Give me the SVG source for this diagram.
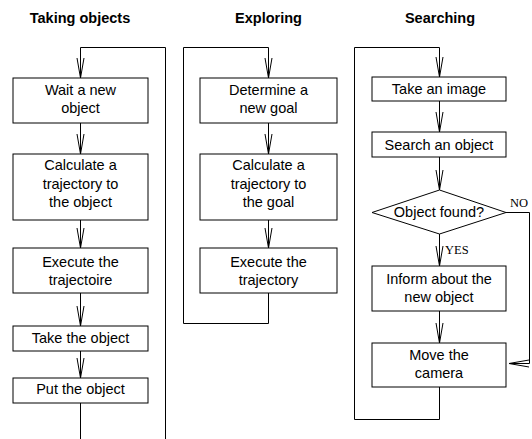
<svg xmlns="http://www.w3.org/2000/svg" width="532" height="439" viewBox="0 0 532 439">
<style>
.box{fill:#fff;stroke:#000;stroke-width:1}
.ln{fill:none;stroke:#000;stroke-width:1}
.t{font-family:"Liberation Sans",Arial,sans-serif;font-size:14.5px;fill:#000;text-anchor:middle}
.h{font-family:"Liberation Sans",Arial,sans-serif;font-size:14.5px;font-weight:bold;fill:#000;text-anchor:middle}
.m{font-family:"Liberation Serif","Times New Roman",serif;font-size:12.5px;fill:#000}
</style>
<defs>
<marker id="v" markerUnits="userSpaceOnUse" markerWidth="24" markerHeight="10" viewBox="-21 -5 22 10" refX="0" refY="0" orient="auto" overflow="visible">
<path d="M-20,-3.5 L0,0 L-20,3.5" fill="none" stroke="#000" stroke-width="1"/>
</marker>
</defs>
<g id="titles">
<text class="h" x="80" y="23">Taking objects</text>
<text class="h" x="268.5" y="23">Exploring</text>
<text class="h" x="440" y="23">Searching</text>
</g>
<g id="connectors">
<path class="ln" d="M80.5,439 V402.5"/>
<path class="ln" d="M80.5,47.5 H165.5 V439"/>
<path class="ln" d="M80.5,47.5 V78" marker-end="url(#v)"/>
<path class="ln" d="M80.5,123 V154" marker-end="url(#v)"/>
<path class="ln" d="M80.5,220 V248" marker-end="url(#v)"/>
<path class="ln" d="M80.5,293 V326" marker-end="url(#v)"/>
<path class="ln" d="M80.5,351 V378" marker-end="url(#v)"/>
<path class="ln" d="M268.5,293 V323.5 H183.5 V47.5 H268.5 V78" marker-end="url(#v)"/>
<path class="ln" d="M268.5,123 V154" marker-end="url(#v)"/>
<path class="ln" d="M268.5,220 V248" marker-end="url(#v)"/>
<path class="ln" d="M439.5,387 V419.5 H354.5 V47.5 H439.5 V77" marker-end="url(#v)"/>
<path class="ln" d="M439.5,101 V132" marker-end="url(#v)"/>
<path class="ln" d="M439.5,157 V190" marker-end="url(#v)"/>
<path class="ln" d="M439.5,234 V266" marker-end="url(#v)"/>
<path class="ln" d="M439.5,311 V343" marker-end="url(#v)"/>
<path class="ln" d="M506,212.5 H529.5 V363.5 H509" marker-end="url(#v)"/>
<text class="m" x="445" y="254">YES</text>
<text class="m" x="510" y="207">NO</text>
</g>
<g id="wait">
<rect class="box" x="13" y="78" width="135" height="45"/>
<text class="t" x="80.5" y="95">Wait a new</text>
<text class="t" x="80.5" y="113">object</text>
</g>
<g id="calc1">
<rect class="box" x="13" y="154" width="135" height="66"/>
<text class="t" x="80.5" y="170">Calculate a</text>
<text class="t" x="80.5" y="188.5">trajectory to</text>
<text class="t" x="80.5" y="207">the object</text>
</g>
<g id="exec1">
<rect class="box" x="13" y="248" width="135" height="45"/>
<text class="t" x="80.5" y="267">Execute the</text>
<text class="t" x="80.5" y="285">trajectoire</text>
</g>
<g id="take">
<rect class="box" x="13" y="326" width="135" height="25"/>
<text class="t" x="80.5" y="342.5">Take the object</text>
</g>
<g id="put">
<rect class="box" x="13" y="378" width="135" height="25"/>
<text class="t" x="80.5" y="394">Put the object</text>
</g>
<g id="determine">
<rect class="box" x="200" y="78" width="137" height="45"/>
<text class="t" x="268.5" y="95">Determine a</text>
<text class="t" x="268.5" y="113">new goal</text>
</g>
<g id="calc2">
<rect class="box" x="200" y="154" width="137" height="66"/>
<text class="t" x="268.5" y="170">Calculate a</text>
<text class="t" x="268.5" y="188.5">trajectory to</text>
<text class="t" x="268.5" y="207">the goal</text>
</g>
<g id="exec2">
<rect class="box" x="200" y="248" width="137" height="45"/>
<text class="t" x="268.5" y="267">Execute the</text>
<text class="t" x="268.5" y="285">trajectory</text>
</g>
<g id="image">
<rect class="box" x="372" y="77" width="134" height="24"/>
<text class="t" x="439" y="94">Take an image</text>
</g>
<g id="search">
<rect class="box" x="372" y="132" width="134" height="25"/>
<text class="t" x="439" y="149.5">Search an object</text>
</g>
<g id="found">
<polygon class="box" points="439.5,190 506,212.5 439.5,234 372,212.5"/>
<text class="t" x="439" y="217">Object found?</text>
</g>
<g id="inform">
<rect class="box" x="372" y="266" width="134" height="45"/>
<text class="t" x="439" y="284">Inform about the</text>
<text class="t" x="439" y="302">new object</text>
</g>
<g id="move">
<rect class="box" x="372" y="343" width="134" height="44"/>
<text class="t" x="439" y="360">Move the</text>
<text class="t" x="439" y="378">camera</text>
</g>
</svg>
